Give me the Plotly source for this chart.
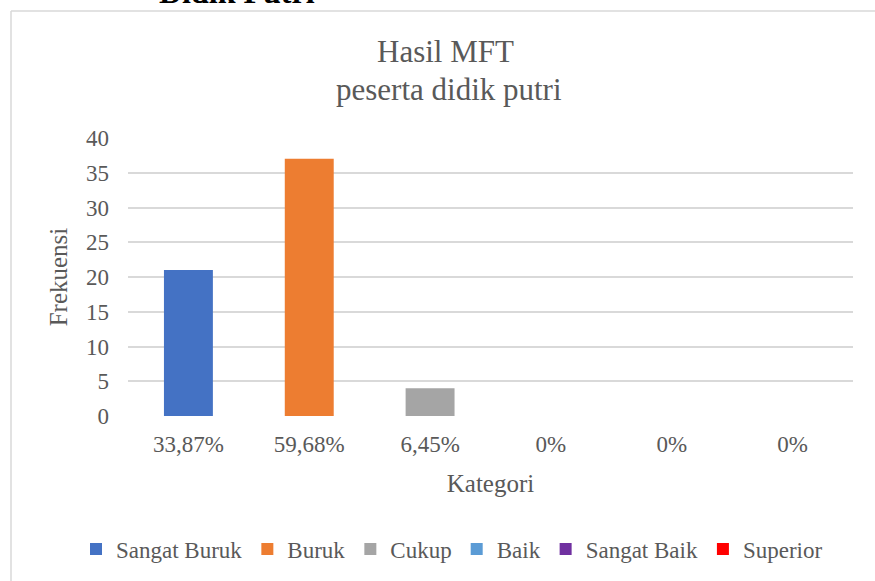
import plotly.graph_objects as go

categories = ["Sangat Buruk", "Buruk", "Cukup", "Baik", "Sangat Baik", "Superior"]
frequencies = [21, 37, 4, 0, 0, 0]
percent_labels = ["33,87%", "59,68%", "6,45%", "0%", "0%", "0%"]
colors = ["#4472C4", "#ED7D31", "#A5A5A5", "#5B9BD5", "#7030A0", "#FF0000"]

W, H = 875, 581
L, R, T, B = 128, 22, 138, 165
pw, ph = W - L - R, H - T - B

def px(x):
    return (x - L) / pw

def py(y):
    return (H - B - y) / ph

FONT = "Liberation Serif"
GRAY = "#595959"

fig = go.Figure()
for i, (cat, val, col) in enumerate(zip(categories, frequencies, colors)):
    fig.add_trace(go.Bar(x=[i], y=[val], name=cat, marker=dict(color=col, line=dict(width=0)),
                         width=0.405))

fig.update_layout(
    width=W, height=H,
    margin=dict(l=L, r=R, t=T, b=B, autoexpand=False),
    paper_bgcolor="white", plot_bgcolor="white",
    barmode="overlay",
    font=dict(family=FONT, color=GRAY, size=24),
    showlegend=True,
    legend=dict(orientation="h", x=px(76), xanchor="left", y=py(549), yanchor="middle",
                font=dict(size=23, color=GRAY), itemsizing="constant", traceorder="normal",
                tracegroupgap=0, itemwidth=30),
    xaxis=dict(range=[-0.5, 5.5], tickvals=list(range(len(categories))), ticktext=percent_labels,
               showgrid=False, zeroline=False, showline=False, ticks="",
               ticklabelstandoff=12, tickfont=dict(size=23, color=GRAY),
               title=dict(text="Kategori", font=dict(size=25, color=GRAY), standoff=18)),
    yaxis=dict(range=[0, 40], dtick=5, showgrid=True, gridcolor="#d9d9d9", gridwidth=1.5,
               zeroline=False, showline=False, ticks="", ticklabelstandoff=18,
               tickfont=dict(size=23, color=GRAY),
               title=dict(text="Frekuensi", font=dict(size=25, color=GRAY), standoff=11)),
    annotations=[
        dict(text="Hasil MFT", x=px(445), y=py(52), xref="paper", yref="paper",
             showarrow=False, font=dict(size=31, color=GRAY), xanchor="center", yanchor="middle"),
        dict(text="peserta didik putri", x=px(449), y=py(89), xref="paper", yref="paper",
             showarrow=False, font=dict(size=31, color=GRAY), xanchor="center", yanchor="middle"),
        dict(text="<b>Didik Putri</b>", x=px(237), y=py(-8), xref="paper", yref="paper",
             showarrow=False, font=dict(size=32, color="black"), xanchor="center", yanchor="middle"),
    ],
    shapes=[
        dict(type="line", xref="paper", yref="paper", x0=px(11), x1=px(880), y0=py(11), y1=py(11),
             line=dict(color="#d9d9d9", width=1.5)),
        dict(type="line", xref="paper", yref="paper", x0=px(11), x1=px(11), y0=py(11), y1=py(590),
             line=dict(color="#d9d9d9", width=1.5)),
    ],
)

fig.write_html("out.html", config={"displayModeBar": False},
               post_script="document.body.style.margin='0';document.body.style.overflow='hidden';")
